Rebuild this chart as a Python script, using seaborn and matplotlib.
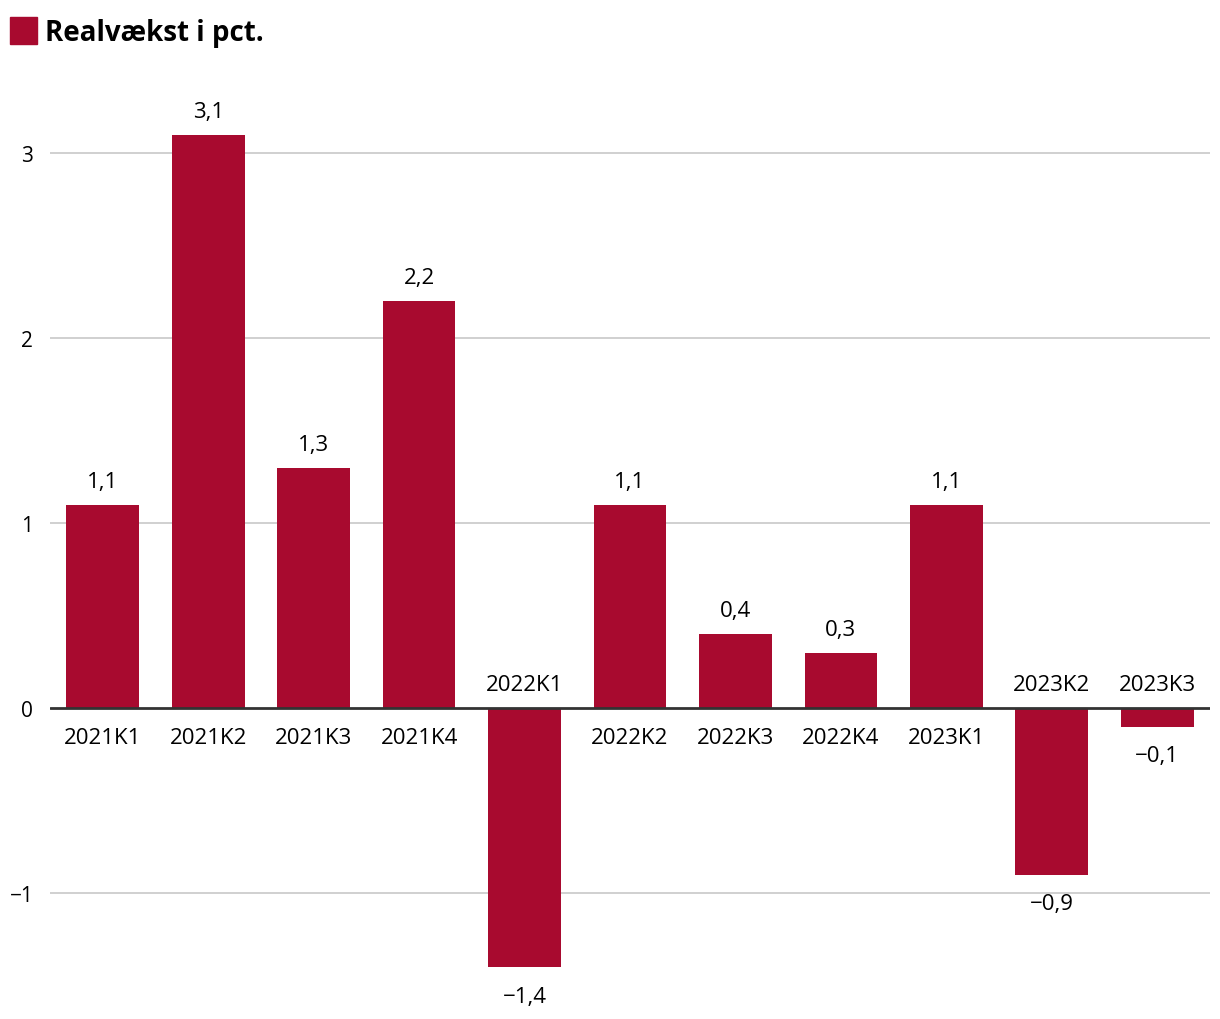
import matplotlib
matplotlib.use("Agg")
import matplotlib.pyplot as plt
import seaborn as sns
import pandas as pd
from matplotlib.patches import Rectangle

quarters = ["2021K1", "2021K2", "2021K3", "2021K4", "2022K1", "2022K2",
            "2022K3", "2022K4", "2023K1", "2023K2", "2023K3"]
growth = [1.1, 3.1, 1.3, 2.2, -1.4, 1.1, 0.4, 0.3, 1.1, -0.9, -0.1]
yticks = [-1, 0, 1, 2, 3]
ytick_labels = ["\u22121", "0", "1", "2", "3"]

bar_color = "#A80A2F"

sns.set_style("white")
plt.rcParams["font.family"] = ["Open Sans", "DejaVu Sans"]
plt.rcParams["text.color"] = "black"
plt.rcParams["ytick.color"] = "black"

df = pd.DataFrame({"kvartal": quarters, "vaekst": growth})

fig = plt.figure(figsize=(12.2, 10.2), dpi=100)
ax = fig.add_axes([50 / 1220, 8 / 1020, 1160 / 1220, 930 / 1020])

sns.barplot(data=df, x="kvartal", y="vaekst", color=bar_color, width=0.69,
            saturation=1, linewidth=0, ax=ax, zorder=3)

ax.set_xlim(-0.5, 10.5)
ax.set_ylim(-1.637, 3.39)
ax.set_yticks(yticks)
ax.set_yticklabels(ytick_labels, fontsize=15)
ax.tick_params(axis="y", length=0, pad=12, labelcolor="black")
ax.set_xticks([])
ax.set_xlabel("")
ax.set_ylabel("")
for s in ax.spines.values():
    s.set_visible(False)

for v in yticks:
    if v == 0:
        ax.axhline(0, color="#333333", lw=2, zorder=4)
    else:
        ax.axhline(v, color="#c8c8c8", lw=1.2, zorder=1)

# kategori- og værdilabels
fs = 16
for i, (q, v) in enumerate(zip(quarters, growth)):
    lbl = f"{v:.1f}".replace(".", ",").replace("-", "\u2212")
    if v >= 0:
        ax.text(i, -0.10, q, ha="center", va="top", fontsize=fs)
        ax.text(i, v + 0.07, lbl, ha="center", va="bottom", fontsize=fs)
    else:
        ax.text(i, 0.07, q, ha="center", va="bottom", fontsize=fs)
        ax.text(i, v - 0.10, lbl, ha="center", va="top", fontsize=fs)

# forklaring øverst
fig.patches.append(Rectangle((10 / 1220, 1 - 45 / 1020), 27 / 1220, 27 / 1020,
                             transform=fig.transFigure, color=bar_color))
fig.text(45 / 1220, 1 - 34 / 1020, "Realvækst i pct.", fontsize=20,
         fontweight="bold", va="center", ha="left")

fig.savefig("out.png", dpi=100)
